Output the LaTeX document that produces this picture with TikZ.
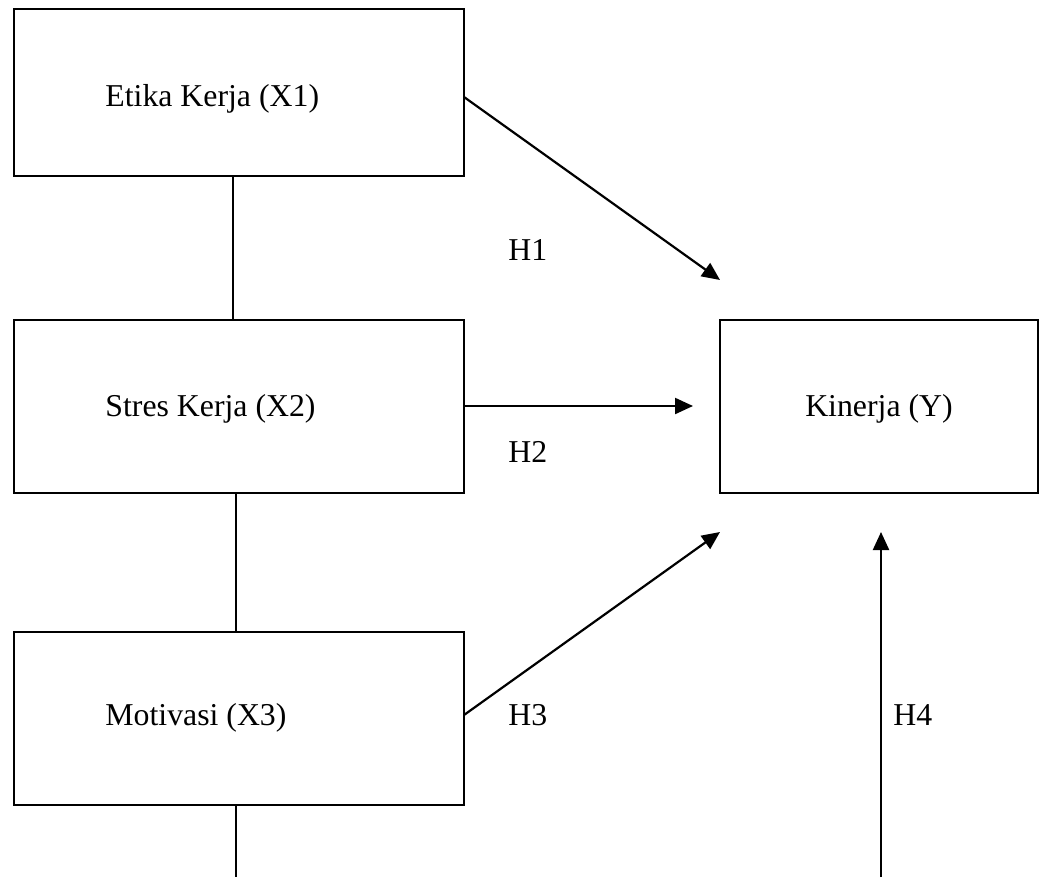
\documentclass[tikz,border=0pt]{standalone}
\usepackage{fontspec}
\setmainfont{Liberation Serif}
\usetikzlibrary{arrows.meta}
\begin{document}
\begin{tikzpicture}[x=0.5pt,y=-0.5pt,
  box/.style={draw,line width=1pt,inner sep=0pt,outer sep=0pt,minimum width=225pt,minimum height=86.5pt},
  lbl/.style={anchor=base west,inner sep=0pt,font=\fontsize{15.9}{19}\selectfont},
  conn/.style={line width=1pt},
  arr/.style={line width=1.1pt,-{Triangle[length=9pt,width=8pt]}}]
\useasboundingbox (0,0) rectangle (1048,877);
\node[box,minimum height=83.5pt] (x1) at (239,92.5) {};
\node[box] (x2) at (239,406.5) {};
\node[box] (x3) at (239,718.5) {};
\node[box,minimum width=159pt] (y) at (879,406.5) {};
\node[lbl] (t1) at (105,107) {Etika Kerja (X1)};
\node[lbl] (t2) at (105,416) {Stres Kerja (X2)};
\node[lbl] (t3) at (105,725) {Motivasi (X3)};
\node[lbl,anchor=base] (ty) at (879,416) {Kinerja (Y)};
\node[lbl] (h1) at (508,260) {H1};
\node[lbl] (h2) at (508,462) {H2};
\node[lbl] (h3) at (508,725) {H3};
\node[lbl] (h4) at (893,725) {H4};
\coordinate (a1s) at (464,97);
\coordinate (a1e) at (720,280);
\coordinate (a2s) at (464,406);
\coordinate (a2e) at (693,406);
\coordinate (a3s) at (464,715);
\coordinate (a3e) at (720,532);
\coordinate (a4s) at (881,877);
\coordinate (a4e) at (881,532);
\coordinate (b3) at (236,877);
\draw[conn] (x1.south -| 233,0) -- (x2.north -| 233,0);
\draw[conn] (x2.south -| 236,0) -- (x3.north -| 236,0);
\draw[conn] (x3.south -| 236,0) -- (b3);
\draw[arr] (a1s) -- (a1e);
\draw[arr] (a2s) -- (a2e);
\draw[arr] (a3s) -- (a3e);
\draw[arr] (a4s) -- (a4e);
\end{tikzpicture}
\end{document}
